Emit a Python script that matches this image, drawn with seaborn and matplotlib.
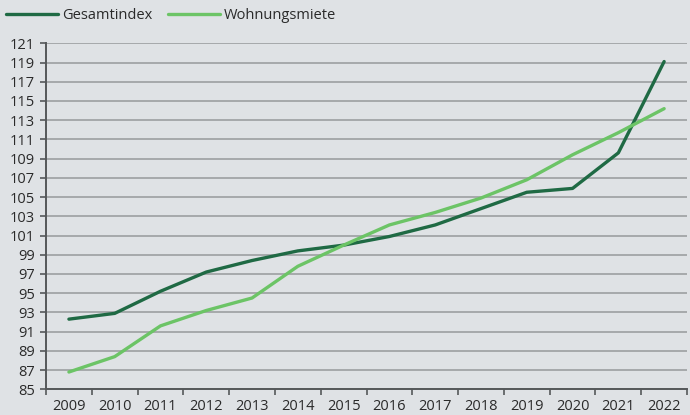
import matplotlib
matplotlib.use("Agg")
import matplotlib.pyplot as plt
import seaborn as sns
import pandas as pd
from matplotlib.ticker import FixedLocator

years = ["2009", "2010", "2011", "2012", "2013", "2014", "2015",
         "2016", "2017", "2018", "2019", "2020", "2021", "2022"]
gesamtindex = [92.3, 92.9, 95.2, 97.2, 98.4, 99.4, 100.0,
               100.9, 102.1, 103.8, 105.5, 105.9, 109.6, 119.1]
wohnungsmiete = [86.8, 88.4, 91.6, 93.2, 94.5, 97.8, 100.0,
                 102.1, 103.4, 104.9, 106.8, 109.4, 111.7, 114.2]
series_names = ["Gesamtindex", "Wohnungsmiete"]
series_colors = ["#1f6a44", "#6cc466"]
y_ticks = list(range(85, 122, 2))

pos = list(range(len(years)))
df = pd.DataFrame({
    "pos": pos * 2,
    "value": gesamtindex + wohnungsmiete,
    "series": [series_names[0]] * len(years) + [series_names[1]] * len(years),
})

bg = "#dfe2e5"
sns.set_theme(style="white")
plt.rcParams["font.family"] = ["Open Sans", "DejaVu Sans"]

fig = plt.figure(figsize=(6.9, 4.15), dpi=100, facecolor=bg)
ax = fig.add_axes([0.0667, 0.0619, 0.9290, 0.8338], facecolor=bg)

sns.lineplot(data=df, x="pos", y="value", hue="series",
             palette=dict(zip(series_names, series_colors)),
             linewidth=2.4, ax=ax, legend=False, zorder=3)

ax.set_xlim(-0.5, len(years) - 0.5)
ax.set_ylim(85, 121)
ax.set_yticks(y_ticks)
ax.set_yticklabels([str(t) for t in y_ticks])
ax.set_xticks(pos)
ax.set_xticklabels(years)
ax.xaxis.set_minor_locator(FixedLocator([p + 0.5 for p in range(-1, len(years))]))

ax.set_xlabel("")
ax.set_ylabel("")
ax.yaxis.grid(True, color="#a2a4a6", linewidth=1.3)
ax.set_axisbelow(True)

for side in ["top", "right"]:
    ax.spines[side].set_visible(False)
for side in ["left", "bottom"]:
    ax.spines[side].set_color("#55585a")
    ax.spines[side].set_linewidth(1.4)

ax.tick_params(axis="y", which="major", length=4, width=1.2, color="#55585a",
               labelsize=10.5, labelcolor="#2a2a2a", pad=4, left=True)
ax.tick_params(axis="x", which="major", length=0, labelsize=10.5,
               labelcolor="#2a2a2a", pad=7)
ax.tick_params(axis="x", which="minor", length=4, width=1.2, color="#55585a",
               bottom=True)

handles = [plt.Line2D([], [], color=c, linewidth=2.4) for c in series_colors]
fig.legend(handles, series_names, loc="upper left", bbox_to_anchor=(-0.011, 1.012),
           ncol=2, frameon=False, fontsize=10.5, handlelength=3.6,
           handletextpad=0.25, columnspacing=1.1, labelcolor="#2a2a2a")

fig.savefig("out.png", dpi=100, facecolor=bg)
